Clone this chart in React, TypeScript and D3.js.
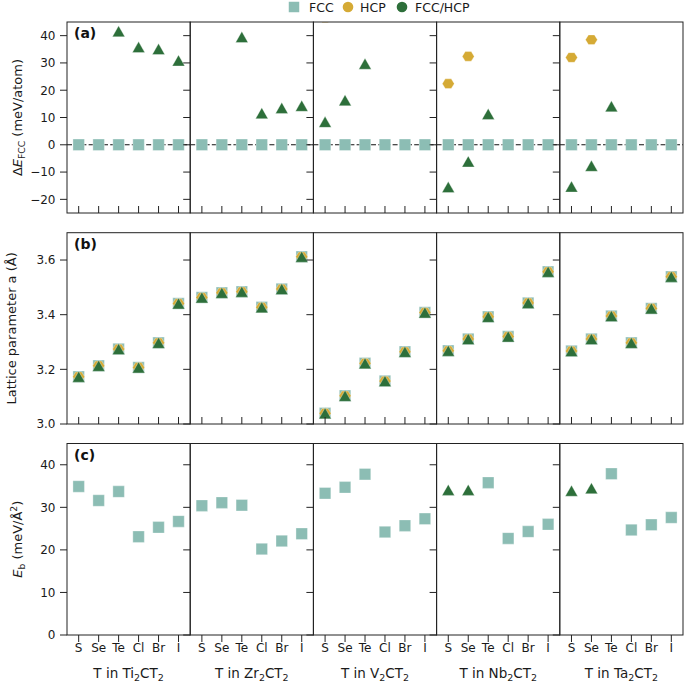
import React from "react";
import * as d3 from "d3";

const metals = ["Ti", "Zr", "V", "Nb", "Ta"];
const terms = ["S", "Se", "Te", "Cl", "Br", "I"];

// Row (a): ΔE_FCC (meV/atom)
const dEFCC: (number | null)[][] = [
  [0, 0, 0, 0, 0, 0],
  [0, 0, 0, 0, 0, 0],
  [0, 0, 0, 0, 0, 0],
  [0, 0, 0, 0, 0, 0],
  [0, 0, 0, 0, 0, 0],
];
const dEHCP: (number | null)[][] = [
  [null, null, null, null, null, null],
  [null, null, null, null, null, null],
  [46.6, null, null, null, null, null],
  [22.4, 32.4, null, null, null, null],
  [32.0, 38.5, null, null, null, null],
];
const dEMix: (number | null)[][] = [
  [null, null, 41.6, 35.8, 35.1, 30.9],
  [null, null, 39.5, 11.6, 13.5, 14.3],
  [8.4, 16.3, 29.7, null, null, null],
  [-15.5, -6.1, 11.3, null, null, null],
  [-15.3, -7.7, 14.1, null, null, null],
];

// Row (b): lattice parameter a (Å)
const latticeA: number[][] = [
  [3.173, 3.213, 3.274, 3.207, 3.297, 3.441],
  [3.463, 3.48, 3.484, 3.427, 3.494, 3.612],
  [3.039, 3.103, 3.222, 3.157, 3.264, 3.408],
  [3.268, 3.311, 3.392, 3.32, 3.443, 3.557],
  [3.267, 3.311, 3.395, 3.297, 3.423, 3.539],
];

// Row (c): E_b (meV/Å²) by ground-state phase
const ebFCC: (number | null)[][] = [
  [34.9, 31.6, 33.7, 23.1, 25.3, 26.7],
  [30.4, 31.1, 30.5, 20.2, 22.1, 23.8],
  [33.3, 34.7, 37.8, 24.2, 25.7, 27.3],
  [null, null, 35.8, 22.7, 24.3, 26.0],
  [null, null, 37.9, 24.7, 25.9, 27.6],
];
const ebMix: (number | null)[][] = [
  [null, null, null, null, null, null],
  [null, null, null, null, null, null],
  [null, null, null, null, null, null],
  [34.1, 34.1, null, null, null, null],
  [33.9, 34.5, null, null, null, null],
];

const ticksA = [-20, -10, 0, 10, 20, 30, 40];
const ticksB = [3.0, 3.2, 3.4, 3.6];
const ticksC = [0, 10, 20, 30, 40];

const C_FCC = "#8cbdb4";
const C_HCP = "#d5aa35";
const C_MIX = "#2d6f3a";
const FONT = "DejaVu Sans, sans-serif";
const SPINE = "#222";
const TXT = "#1a1a1a";

const W = 685;
const H = 683;
const left = 67;
const right = 683;
const pw = (right - left) / 5;
const rows = [
  { top: 22, bottom: 213, domain: [-25, 45], ticks: ticksA, fmt: (v: number) => d3.format("d")(v).replace("-", "\u2212"), tickIn: true },
  { top: 232.7, bottom: 424, domain: [3.0, 3.7], ticks: ticksB, fmt: d3.format(".1f"), tickIn: true },
  { top: 443.5, bottom: 635, domain: [0, 45], ticks: ticksC, fmt: d3.format("d"), tickIn: false },
];

const TL = 7;
const FS_TICK = 12;

function sq(s: number) {
  const h = s / 2;
  return `M${-h},${-h}H${h}V${h}H${-h}Z`;
}
function tri(w: number, h: number) {
  return `M0,${-h / 2}L${w / 2},${h / 2}L${-w / 2},${h / 2}Z`;
}
function hex(r: number) {
  const pts = d3.range(6).map((i) => {
    const a = (Math.PI / 3) * i;
    return [r * Math.cos(a), r * Math.sin(a) * 0.93];
  });
  return "M" + pts.map((p) => p.join(",")).join("L") + "Z";
}

const SQ = sq(11.5);
const TRI = tri(12.5, 11);
const HEX = hex(6);

export default function App() {
  const x = d3.scaleLinear().domain([-0.585, terms.length - 1 + 0.585]).range([0, pw]);

  const markers = (
    vals: (number | null)[],
    y: d3.ScaleLinear<number, number>,
    path: string,
    fill: string,
    key: string
  ) =>
    vals.map((v, i) =>
      v === null ? null : (
        <path
          key={key + i}
          d={path}
          transform={`translate(${x(i)},${y(v)})`}
          fill={fill}
          stroke="#ffffff"
          strokeOpacity={0.55}
          strokeWidth={0.6}
        />
      )
    );

  return (
    <svg
      width={W}
      height={H}
      style={{ display: "block", position: "absolute", left: 0, top: 0, fontFamily: FONT, background: "#fff" }}
    >
      <defs>
        {rows.map((r, ri) =>
          metals.map((m, mi) => (
            <clipPath id={`clip-${ri}-${mi}`} key={`c${ri}${mi}`}>
              <rect x={0} y={0} width={pw} height={r.bottom - r.top} />
            </clipPath>
          ))
        )}
      </defs>

      {/* Legend */}
      <g fontSize={12.5} fill={TXT}>
        <path d={sq(10.5)} transform="translate(294,7)" fill={C_FCC} />
        <text x={309} y={11.5}>FCC</text>
        <circle cx={348} cy={7} r={5.3} fill={C_HCP} />
        <text x={360} y={11.5}>HCP</text>
        <circle cx={402} cy={7} r={5.3} fill={C_MIX} />
        <text x={415} y={11.5}>FCC/HCP</text>
      </g>

      {rows.map((r, ri) => {
        const ph = r.bottom - r.top;
        const y = d3.scaleLinear().domain(r.domain).range([ph, 0]);
        return (
          <g key={"row" + ri}>
            {metals.map((m, mi) => {
              const x0 = left + mi * pw;
              return (
                <g key={"p" + ri + mi} transform={`translate(${x0},${r.top})`}>
                  <g clipPath={`url(#clip-${ri}-${mi})`}>
                    {ri === 0 && (
                      <>
                        <line x1={0} x2={pw} y1={y(0)} y2={y(0)} stroke="#111" strokeWidth={1.1} strokeDasharray="5,2.2" />
                        {markers(dEFCC[mi], y, SQ, C_FCC, "f")}
                        {markers(dEHCP[mi], y, HEX, C_HCP, "h")}
                        {markers(dEMix[mi], y, TRI, C_MIX, "m")}
                      </>
                    )}
                    {ri === 1 && (
                      <>
                        {markers(latticeA[mi], y, SQ, C_FCC, "f")}
                        {markers(latticeA[mi], y, HEX, C_HCP, "h")}
                        {markers(latticeA[mi], y, TRI, C_MIX, "m")}
                      </>
                    )}
                    {ri === 2 && (
                      <>
                        {markers(ebFCC[mi], y, SQ, C_FCC, "f")}
                        {markers(ebMix[mi], y, TRI, C_MIX, "m")}
                      </>
                    )}
                  </g>
                  {r.ticks.map((t) => (
                    <line key={"yt" + t} x1={-TL} x2={0} y1={y(t)} y2={y(t)} stroke={SPINE} strokeWidth={1} />
                  ))}
                  {mi === 0 &&
                    r.ticks.map((t) => (
                      <text key={"yl" + t} x={-11.5} y={y(t)} dy="0.36em" textAnchor="end" fontSize={FS_TICK} fill={TXT}>
                        {r.fmt(t)}
                      </text>
                    ))}
                  {terms.map((t, i) => (
                    <line
                      key={"xt" + i}
                      x1={x(i)}
                      x2={x(i)}
                      y1={ph}
                      y2={r.tickIn ? ph - TL : ph + TL}
                      stroke={SPINE}
                      strokeWidth={1}
                    />
                  ))}
                  <rect x={0} y={0} width={pw} height={ph} fill="none" stroke={SPINE} strokeWidth={1} />
                </g>
              );
            })}
            <text x={left + 7} y={r.top + 16} fontSize={14} fontWeight="bold" fill="#111">
              {"(" + "abc"[ri] + ")"}
            </text>
          </g>
        );
      })}

      {metals.map((m, mi) =>
        terms.map((t, i) => (
          <text
            key={"xl" + mi + i}
            x={left + mi * pw + x(i)}
            y={651.5}
            textAnchor="middle"
            fontSize={FS_TICK}
            fill={TXT}
          >
            {t}
          </text>
        ))
      )}

      {metals.map((m, mi) => (
        <text key={"tt" + mi} x={left + mi * pw + pw / 2} y={678} textAnchor="middle" fontSize={13.5} fill={TXT}>
          {"T in " + m}
          <tspan fontSize={9.5} dy={2.5}>2</tspan>
          <tspan dy={-2.5}>CT</tspan>
          <tspan fontSize={9.5} dy={2.5}>2</tspan>
        </text>
      ))}

      <text transform={`translate(22,${(rows[0].top + rows[0].bottom) / 2}) rotate(-90)`} textAnchor="middle" fontSize={13} fill={TXT}>
        {"\u0394"}
        <tspan fontStyle="italic">E</tspan>
        <tspan fontSize={9.2} dy={2.5}>FCC</tspan>
        <tspan dy={-2.5}>{" (meV/atom)"}</tspan>
      </text>
      <text transform={`translate(16,${(rows[1].top + rows[1].bottom) / 2}) rotate(-90)`} textAnchor="middle" fontSize={13} fill={TXT}>
        Lattice parameter a (Å)
      </text>
      <text transform={`translate(22,${(rows[2].top + rows[2].bottom) / 2}) rotate(-90)`} textAnchor="middle" fontSize={13} fill={TXT}>
        <tspan fontStyle="italic">E</tspan>
        <tspan fontSize={9.2} dy={2.5}>b</tspan>
        <tspan dy={-2.5}>{" (meV/Å"}</tspan>
        <tspan fontSize={9.2} dy={-5}>2</tspan>
        <tspan dy={5}>)</tspan>
      </text>
    </svg>
  );
}
